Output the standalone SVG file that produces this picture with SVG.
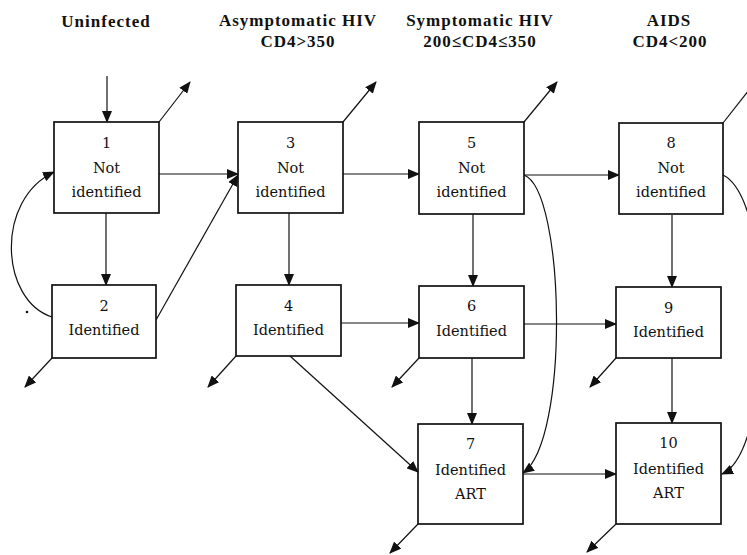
<svg xmlns="http://www.w3.org/2000/svg" width="747" height="555" viewBox="0 0 747 555">
<style>
.bg{fill:#fff}
.box{fill:#fff;stroke:#111;stroke-width:1.7}
.t{font-family:"DejaVu Serif","Liberation Serif",serif;font-size:14.5px;fill:#111;text-anchor:middle}
.h{font-family:"Liberation Serif","Noto Sans CJK SC",serif;font-size:17px;font-weight:bold;fill:#111;text-anchor:middle;letter-spacing:1px}
.c{fill:none;stroke:#111;stroke-width:1.2}
</style>
<defs>
<marker id="a" markerUnits="userSpaceOnUse" markerWidth="12" markerHeight="10" refX="11" refY="5" orient="auto">
<path d="M0,0 L12,5 L0,10 z" fill="#111"/>
</marker>
</defs>
<rect class="bg" x="0" y="0" width="747" height="555"/>
<g id="headers">
<text class="h" x="106" y="27">Uninfected</text>
<text class="h" x="298" y="26">Asymptomatic HIV</text>
<text class="h" x="298" y="47">CD4&gt;350</text>
<text class="h" x="480" y="26">Symptomatic HIV</text>
<text class="h" x="480" y="47">200≤CD4≤350</text>
<text class="h" x="669" y="26">AIDS</text>
<text class="h" x="670" y="47">CD4&lt;200</text>
</g>
<g id="connectors">
<line class="c" x1="107" y1="76" x2="107" y2="122" marker-end="url(#a)"/>
<line class="c" x1="159" y1="122" x2="190" y2="82" marker-end="url(#a)"/>
<line class="c" x1="343" y1="122" x2="376" y2="82" marker-end="url(#a)"/>
<line class="c" x1="524" y1="122" x2="557" y2="82" marker-end="url(#a)"/>
<line class="c" x1="723" y1="123" x2="760" y2="76" marker-end="url(#a)"/>
<line class="c" x1="106" y1="213" x2="106" y2="285" marker-end="url(#a)"/>
<line class="c" x1="159" y1="174" x2="238" y2="174" marker-end="url(#a)"/>
<line class="c" x1="156" y1="320" x2="238" y2="175" marker-end="url(#a)"/>
<path class="c" d="M52,317 C0,300 -5,200 54,172" marker-end="url(#a)"/>
<line class="c" x1="52" y1="358" x2="25" y2="387" marker-end="url(#a)"/>
<line class="c" x1="289" y1="213" x2="289" y2="285" marker-end="url(#a)"/>
<line class="c" x1="236" y1="356" x2="208" y2="387" marker-end="url(#a)"/>
<line class="c" x1="343" y1="174" x2="419" y2="174" marker-end="url(#a)"/>
<line class="c" x1="341" y1="323" x2="419" y2="323" marker-end="url(#a)"/>
<line class="c" x1="290" y1="356" x2="418" y2="472" marker-end="url(#a)"/>
<line class="c" x1="473" y1="214" x2="473" y2="286" marker-end="url(#a)"/>
<line class="c" x1="524" y1="175" x2="619" y2="175" marker-end="url(#a)"/>
<path class="c" d="M524,175 C565,190 570,440 523,473" marker-end="url(#a)"/>
<line class="c" x1="419" y1="358" x2="392" y2="387" marker-end="url(#a)"/>
<line class="c" x1="472" y1="358" x2="472" y2="424" marker-end="url(#a)"/>
<line class="c" x1="524" y1="324" x2="616" y2="324" marker-end="url(#a)"/>
<line class="c" x1="672" y1="215" x2="672" y2="287" marker-end="url(#a)"/>
<line class="c" x1="616" y1="358" x2="590" y2="387" marker-end="url(#a)"/>
<line class="c" x1="672" y1="358" x2="672" y2="423" marker-end="url(#a)"/>
<line class="c" x1="523" y1="474" x2="616" y2="474" marker-end="url(#a)"/>
<path class="c" d="M723,175 C775,200 775,450 722,474" marker-end="url(#a)"/>
<line class="c" x1="418" y1="524" x2="390" y2="553" marker-end="url(#a)"/>
<line class="c" x1="616" y1="524" x2="587" y2="552" marker-end="url(#a)"/>
<circle cx="27" cy="312" r="1.3" fill="#111"/>
</g>
<g id="n1"><rect class="box" x="54" y="122" width="105" height="91"/><text class="t" x="106.5" y="148">1</text><text class="t" x="106.5" y="173">Not</text><text class="t" x="106.5" y="197">identified</text></g>
<g id="n2"><rect class="box" x="52" y="285" width="104" height="73"/><text class="t" x="104" y="311">2</text><text class="t" x="104" y="335">Identified</text></g>
<g id="n3"><rect class="box" x="238" y="122" width="105" height="91"/><text class="t" x="290.5" y="148">3</text><text class="t" x="290.5" y="173">Not</text><text class="t" x="290.5" y="197">identified</text></g>
<g id="n4"><rect class="box" x="236" y="285" width="105" height="71"/><text class="t" x="288.5" y="311">4</text><text class="t" x="288.5" y="335">Identified</text></g>
<g id="n5"><rect class="box" x="419" y="122" width="105" height="92"/><text class="t" x="471.5" y="148">5</text><text class="t" x="471.5" y="173">Not</text><text class="t" x="471.5" y="197">identified</text></g>
<g id="n6"><rect class="box" x="419" y="286" width="105" height="72"/><text class="t" x="471.5" y="311">6</text><text class="t" x="471.5" y="336">Identified</text></g>
<g id="n7"><rect class="box" x="418" y="424" width="105" height="100"/><text class="t" x="470.5" y="449">7</text><text class="t" x="470.5" y="475">Identified</text><text class="t" x="470.5" y="499">ART</text></g>
<g id="n8"><rect class="box" x="619" y="123" width="104" height="91"/><text class="t" x="671" y="148">8</text><text class="t" x="671" y="173">Not</text><text class="t" x="671" y="197">identified</text></g>
<g id="n9"><rect class="box" x="616" y="287" width="105" height="71"/><text class="t" x="668.5" y="313">9</text><text class="t" x="668.5" y="337">Identified</text></g>
<g id="n10"><rect class="box" x="616" y="423" width="105" height="101"/><text class="t" x="668.5" y="448">10</text><text class="t" x="668.5" y="474">Identified</text><text class="t" x="668.5" y="498">ART</text></g>
</svg>
